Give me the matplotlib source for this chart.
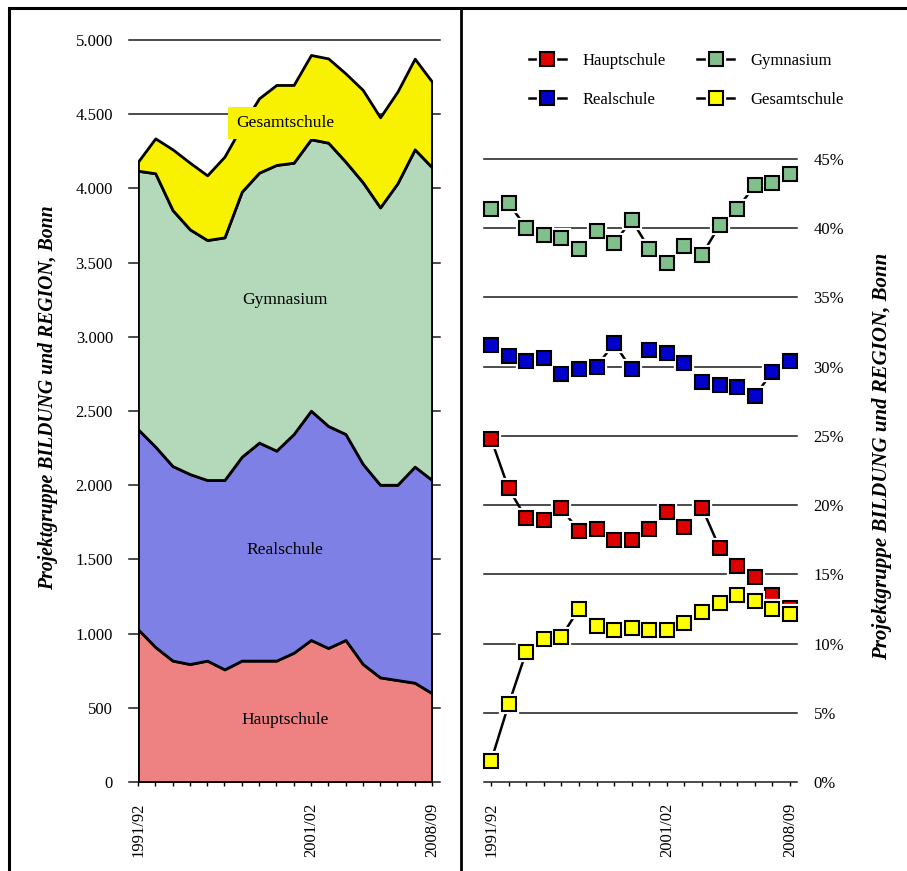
import matplotlib
matplotlib.use('Agg')
import matplotlib.pyplot as plt
from matplotlib.lines import Line2D
from matplotlib.patches import Rectangle
import numpy as np

# ---------------- data ----------------
years = ['1991/92', '1992/93', '1993/94', '1994/95', '1995/96', '1996/97',
         '1997/98', '1998/99', '1999/00', '2000/01', '2001/02', '2002/03',
         '2003/04', '2004/05', '2005/06', '2006/07', '2007/08', '2008/09']
labeled_years = ['1991/92', '2001/02', '2008/09']
schools = ['Hauptschule', 'Realschule', 'Gymnasium', 'Gesamtschule']

# absolute numbers (left, stacked)
abs_haupt = [1029, 910, 818, 795, 818, 759, 818, 818, 818, 871, 957, 903, 957, 795, 705, 687, 669, 598]
abs_real = [1348, 1350, 1311, 1280, 1217, 1276, 1374, 1469, 1415, 1474, 1545, 1496, 1388, 1348, 1298, 1316, 1456, 1437]
abs_gym = [1742, 1842, 1725, 1649, 1617, 1635, 1786, 1819, 1925, 1828, 1829, 1909, 1835, 1898, 1869, 2031, 2138, 2107]
abs_gesamt = [61, 235, 409, 449, 436, 544, 442, 501, 539, 524, 568, 568, 595, 622, 607, 618, 611, 577]

# shares in percent (right)
pct_haupt = [24.8, 21.2, 19.05, 18.9, 19.8, 18.1, 18.3, 17.5, 17.5, 18.3, 19.5, 18.4, 19.8, 16.9, 15.6, 14.8, 13.5, 12.6]
pct_real = [31.6, 30.8, 30.4, 30.6, 29.5, 29.8, 30.0, 31.7, 29.8, 31.2, 31.0, 30.3, 28.9, 28.7, 28.5, 27.9, 29.6, 30.4]
pct_gym = [41.4, 41.8, 40.05, 39.5, 39.3, 38.5, 39.8, 38.9, 40.6, 38.5, 37.5, 38.7, 38.1, 40.2, 41.4, 43.1, 43.3, 43.9]
pct_gesamt = [1.5, 5.6, 9.4, 10.3, 10.5, 12.5, 11.3, 11.0, 11.15, 11.0, 11.0, 11.5, 12.3, 12.9, 13.5, 13.1, 12.5, 12.1]

left_yticks = [0, 500, 1000, 1500, 2000, 2500, 3000, 3500, 4000, 4500, 5000]
right_yticks = [0, 5, 10, 15, 20, 25, 30, 35, 40, 45]

# ---------------- style ----------------
area_colors = ['#EE8282', '#7F80E6', '#B3D8BA', '#F8F200']
marker_colors = ['#DD0000', '#0000CC', '#80C08C', '#FFFF00']
source = 'Projektgruppe BILDUNG und REGION, Bonn'

plt.rcParams['font.family'] = ['Liberation Serif', 'DejaVu Serif']

W, H = 907, 871
fig = plt.figure(figsize=(W / 100, H / 100), dpi=100)


def fx(px):
    return px / W


def fy(py):
    return 1 - py / H


x = np.arange(len(years))
xt_labels = [y if y in labeled_years else '' for y in years]

# ---------------- left: stacked areas ----------------
axL = fig.add_axes([fx(138), fy(782), 294 / W, 742 / H])
axL.patch.set_alpha(0)
axL.stackplot(x, abs_haupt, abs_real, abs_gym, abs_gesamt, colors=area_colors,
              edgecolor='black', linewidth=2.0, zorder=2)
axL.set_xlim(0, len(years) - 1)
axL.set_ylim(0, 5000)
for v in left_yticks:
    axL.axhline(v, xmin=-9 / 294, xmax=1 + 8 / 294, color='#1a1a1a', lw=1.1,
                clip_on=False, zorder=1)
axL.set_yticks(left_yticks)
axL.set_yticklabels([f"{v:,}".replace(',', '.') for v in left_yticks])
axL.tick_params(axis='y', length=0, pad=18, labelsize=12)
axL.set_xticks(x)
axL.set_xticklabels(xt_labels)
axL.tick_params(axis='x', length=3, width=1, direction='out', pad=12,
                labelsize=12, labelrotation=90)
for s in axL.spines.values():
    s.set_visible(False)

AF = 12.6
axL.text(8.5, 4441, 'Gesamtschule', ha='center', va='center', fontsize=AF, zorder=5,
         bbox=dict(facecolor=area_colors[3], edgecolor='none', pad=6))
axL.text(8.5, 3248, 'Gymnasium', ha='center', va='center', fontsize=AF, zorder=5)
axL.text(8.5, 1563, 'Realschule', ha='center', va='center', fontsize=AF, zorder=5)
axL.text(8.5, 418, 'Hauptschule', ha='center', va='center', fontsize=AF, zorder=5)

# ---------------- right: shares ----------------
axR = fig.add_axes([fx(491), fy(782), 299 / W, 623 / H])
axR.patch.set_alpha(0)
axR.set_xlim(0, len(years) - 1)
axR.set_ylim(0, 45)
for v in right_yticks:
    axR.axhline(v, xmin=-7 / 299, xmax=1 + 7 / 299, color='#1a1a1a', lw=1.1,
                clip_on=False, zorder=1)
axR.yaxis.tick_right()
axR.set_yticks(right_yticks)
axR.set_yticklabels([f"{v}%" for v in right_yticks])
axR.tick_params(axis='y', length=0, pad=17, labelsize=12)
axR.set_xticks(x)
axR.set_xticklabels(xt_labels)
axR.tick_params(axis='x', length=3, width=1, direction='out', pad=12,
                labelsize=12, labelrotation=90)
for s in axR.spines.values():
    s.set_visible(False)

MS, MEW, HALO = 9.8, 1.5, 4.5
series = [pct_haupt, pct_real, pct_gym, pct_gesamt]
handles = []
for i, (vals, c) in enumerate(zip(series, marker_colors)):
    z = 3 + 3 * i
    axR.plot(x, vals, color='black', lw=1.8, zorder=z, clip_on=False)
    axR.plot(x, vals, ls='none', marker='s', ms=MS, mfc='white', mec='white',
             mew=HALO, zorder=z + 1, clip_on=False)
    axR.plot(x, vals, ls='none', marker='s', ms=MS, mfc=c, mec='black',
             mew=MEW, zorder=z + 2, clip_on=False)
    h1 = Line2D([], [], color='black', lw=1.8, marker='s', ms=MS, mfc='white',
                mec='white', mew=HALO)
    h2 = Line2D([], [], ls='none', marker='s', ms=MS, mfc=c, mec='black', mew=MEW)
    handles.append((h1, h2))

fig.legend(handles, schools, ncol=2, loc='upper left',
           bbox_to_anchor=(fx(529), fy(53)), frameon=False, fontsize=12,
           handlelength=2.2, handletextpad=1.0, columnspacing=1.9,
           labelspacing=1.4, borderpad=0, borderaxespad=0)

# ---------------- source labels ----------------
fig.text(fx(48), fy(398), source, rotation=90, fontsize=14.2, fontweight='bold',
         style='italic', ha='center', va='center')
fig.text(fx(882), fy(456), source, rotation=90, fontsize=15, fontweight='bold',
         style='italic', ha='center', va='center')

# ---------------- frame ----------------
fig.add_artist(Rectangle((fx(8.5), -0.05), 1.2, fy(8.5) + 0.05,
                         transform=fig.transFigure, fill=False, lw=2.2,
                         ec='black'))
fig.add_artist(Line2D([fx(461), fx(461)], [-0.01, fy(8.5)],
                      transform=fig.transFigure, lw=2.0, color='black'))

fig.savefig('out.png', dpi=100)
